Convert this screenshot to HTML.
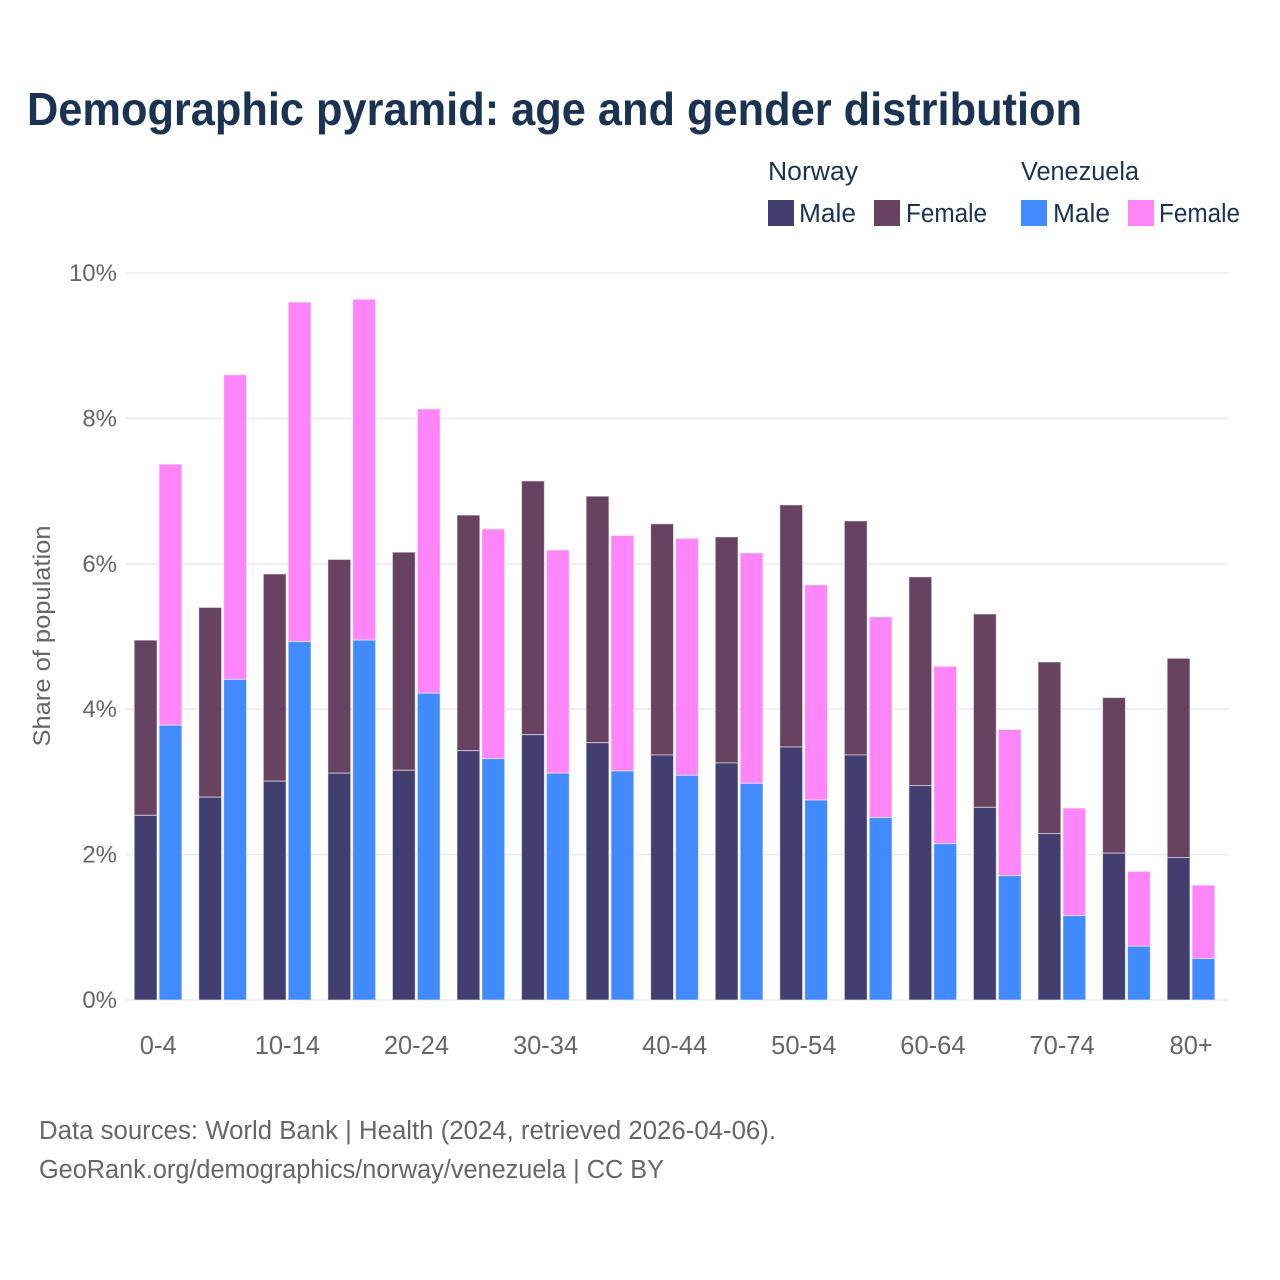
<!DOCTYPE html>
<html lang="en">
<head>
<meta charset="utf-8">
<title>Demographic pyramid</title>
<style>
html,body{margin:0;padding:0;background:#fff;}
svg{display:block;}
text{font-family:"Liberation Sans",sans-serif;}
</style>
</head>
<body>
<svg id="chart" xmlns="http://www.w3.org/2000/svg" width="1280" height="1280" viewBox="0 0 1280 1280">
  <rect x="0" y="0" width="1280" height="1280" fill="#fff"/>
  <text x="27" y="125" font-size="46" font-weight="700" fill="#1a3353" textLength="1055" lengthAdjust="spacingAndGlyphs">Demographic pyramid: age and gender distribution</text>

  <g font-size="25.5" fill="#1a3353">
    <text x="768" y="180" textLength="90" lengthAdjust="spacingAndGlyphs">Norway</text>
    <text x="1021" y="180" textLength="118" lengthAdjust="spacingAndGlyphs">Venezuela</text>
    <rect x="768" y="200" width="26" height="26" fill="#433e70"/>
    <text x="799" y="222" textLength="57" lengthAdjust="spacingAndGlyphs">Male</text>
    <rect x="874" y="200" width="26" height="26" fill="#684261"/>
    <text x="906" y="222" textLength="81" lengthAdjust="spacingAndGlyphs">Female</text>
    <rect x="1021" y="200" width="26" height="26" fill="#418aff"/>
    <text x="1053" y="222" textLength="57" lengthAdjust="spacingAndGlyphs">Male</text>
    <rect x="1128" y="200" width="26" height="26" fill="#ff85f8"/>
    <text x="1159" y="222" textLength="81" lengthAdjust="spacingAndGlyphs">Female</text>
  </g>

  <g id="grid"></g>
  <g id="yticks"></g>
  <g id="bars"></g>
  <g id="xticks"></g>

  <text transform="translate(50,636) rotate(-90)" text-anchor="middle" font-size="24" fill="#666" textLength="221" lengthAdjust="spacingAndGlyphs">Share of population</text>

  <text x="39" y="1139" font-size="25.5" fill="#666" textLength="737" lengthAdjust="spacingAndGlyphs">Data sources: World Bank | Health (2024, retrieved 2026-04-06).</text>
  <text x="39" y="1178" font-size="25.5" fill="#666" textLength="625" lengthAdjust="spacingAndGlyphs">GeoRank.org/demographics/norway/venezuela | CC BY</text>
</svg>
<script>
const ageGroups = ['0-4','5-9','10-14','15-19','20-24','25-29','30-34','35-39','40-44','45-49','50-54','55-59','60-64','65-69','70-74','75-79','80+'];
const norwayMale = [2.54,2.79,3.01,3.12,3.16,3.43,3.65,3.54,3.37,3.26,3.48,3.37,2.95,2.65,2.29,2.02,1.96];
const norwayFemale = [2.41,2.61,2.85,2.94,3.00,3.24,3.49,3.39,3.18,3.11,3.33,3.22,2.87,2.66,2.36,2.14,2.74];
const venezuelaMale = [3.78,4.41,4.93,4.95,4.22,3.32,3.12,3.15,3.09,2.98,2.75,2.51,2.15,1.71,1.16,0.74,0.57];
const venezuelaFemale = [3.59,4.19,4.67,4.69,3.91,3.16,3.07,3.24,3.26,3.17,2.96,2.76,2.44,2.01,1.48,1.03,1.01];
const yTickValues = [0,2,4,6,8,10];
const xTickLabels = ['0-4','10-14','20-24','30-34','40-44','50-54','60-64','70-74','80+'];

const NS = 'http://www.w3.org/2000/svg';
function yScale(v){ return 1000 - v * 72.7; }
function xCenter(i){ return 158.2 + i * 64.56; }
const barW = 22.8;

function rect(parent, x, y, w, h, fill){
  const r = document.createElementNS(NS, 'rect');
  r.setAttribute('x', x);
  r.setAttribute('y', y);
  r.setAttribute('width', w);
  r.setAttribute('height', h);
  r.setAttribute('fill', fill);
  parent.appendChild(r);
  return r;
}
function label(parent, x, y, anchor, str, size){
  const t = document.createElementNS(NS, 'text');
  t.setAttribute('x', x);
  t.setAttribute('y', y);
  t.setAttribute('text-anchor', anchor);
  t.setAttribute('font-size', size);
  t.setAttribute('fill', '#666');
  t.textContent = str;
  parent.appendChild(t);
  return t;
}

const grid = document.getElementById('grid');
const yticks = document.getElementById('yticks');
yTickValues.forEach(function(v){
  const line = document.createElementNS(NS, 'line');
  line.setAttribute('x1', 126);
  line.setAttribute('x2', 1229);
  line.setAttribute('y1', yScale(v));
  line.setAttribute('y2', yScale(v));
  line.setAttribute('stroke', '#ebebef');
  line.setAttribute('stroke-width', '1.6');
  
  
  grid.appendChild(line);
  const t = label(yticks, 117, yScale(v) + 8, 'end', v + '%', 24);
  
  
});

const xticks = document.getElementById('xticks');
ageGroups.forEach(function(g, i){
  if (xTickLabels.indexOf(g) === -1) return;
  const t = label(xticks, xCenter(i), 1054, 'middle', g, 25.5);
  
  
});

const barsG = document.getElementById('bars');
function stacked(i, x, male, female, mColor, fColor, country){
  const base = yScale(0);
  const yM = yScale(male);
  const yT = yScale(male + female);
  const f = rect(barsG, x, yT, barW, yM - yT, fColor);
  f.setAttribute('stroke', 'rgba(255,255,255,0.55)');
  f.setAttribute('stroke-width', '1');
  
  
  const m = rect(barsG, x, yM, barW, base - yM, mColor);
  m.setAttribute('stroke', 'rgba(255,255,255,0.55)');
  m.setAttribute('stroke-width', '1');
  
  
}
ageGroups.forEach(function(g, i){
  const c = xCenter(i);
  stacked(i, c - 24.0, norwayMale[i], norwayFemale[i], '#433e70', '#684261', 'norway');
  stacked(i, c + 0.9, venezuelaMale[i], venezuelaFemale[i], '#418aff', '#ff85f8', 'venezuela');
});
</script>
</body>
</html>
